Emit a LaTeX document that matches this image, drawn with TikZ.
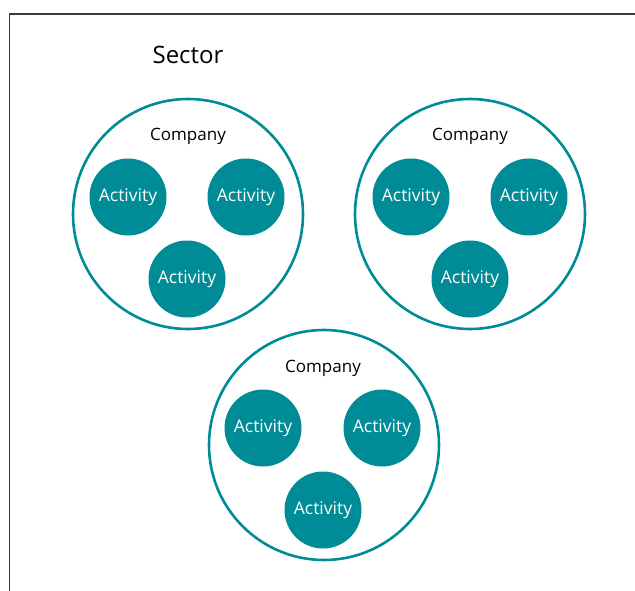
\documentclass[tikz,border=0pt]{standalone}
\usepackage{fontspec}
\setmainfont{Open Sans}
\definecolor{teal1}{RGB}{0,140,150}
\definecolor{frame1}{RGB}{60,60,60}
\begin{document}
\begin{tikzpicture}[x=1pt,y=-1pt,
  company/.style={circle,draw=teal1,line width=2.6pt,minimum size=230pt,inner sep=0pt},
  activity/.style={circle,fill=teal1,minimum size=77pt,inner sep=0pt,text=white,font=\fontsize{17.5}{20}\selectfont},
  clabel/.style={font=\fontsize{17}{20}\selectfont,text=black},
]
\useasboundingbox (0,0) rectangle (635,591);
\draw[frame1,line width=1.4pt] (9.5,591) -- (9.5,14) -- (635,14);
\node[font=\fontsize{24}{28}\selectfont] (sector) at (188,55) {Sector};

\node[company] (c1) at (188,214) {};
\node[clabel] (c1l) at (188,136) {Company};
\node[activity] (a11) at (128,197) {Activity};
\node[activity] (a12) at (246,197) {Activity};
\node[activity] (a13) at (187,279) {Activity};

\node[company] (c2) at (470,214) {};
\node[clabel] (c2l) at (470,136) {Company};
\node[activity] (a21) at (411,197) {Activity};
\node[activity] (a22) at (529,197) {Activity};
\node[activity] (a23) at (470,279) {Activity};

\node[company] (c3) at (324,445) {};
\node[clabel] (c3l) at (323,368) {Company};
\node[activity] (a31) at (263,428) {Activity};
\node[activity] (a32) at (382,428) {Activity};
\node[activity] (a33) at (323,510) {Activity};
\end{tikzpicture}
\end{document}
